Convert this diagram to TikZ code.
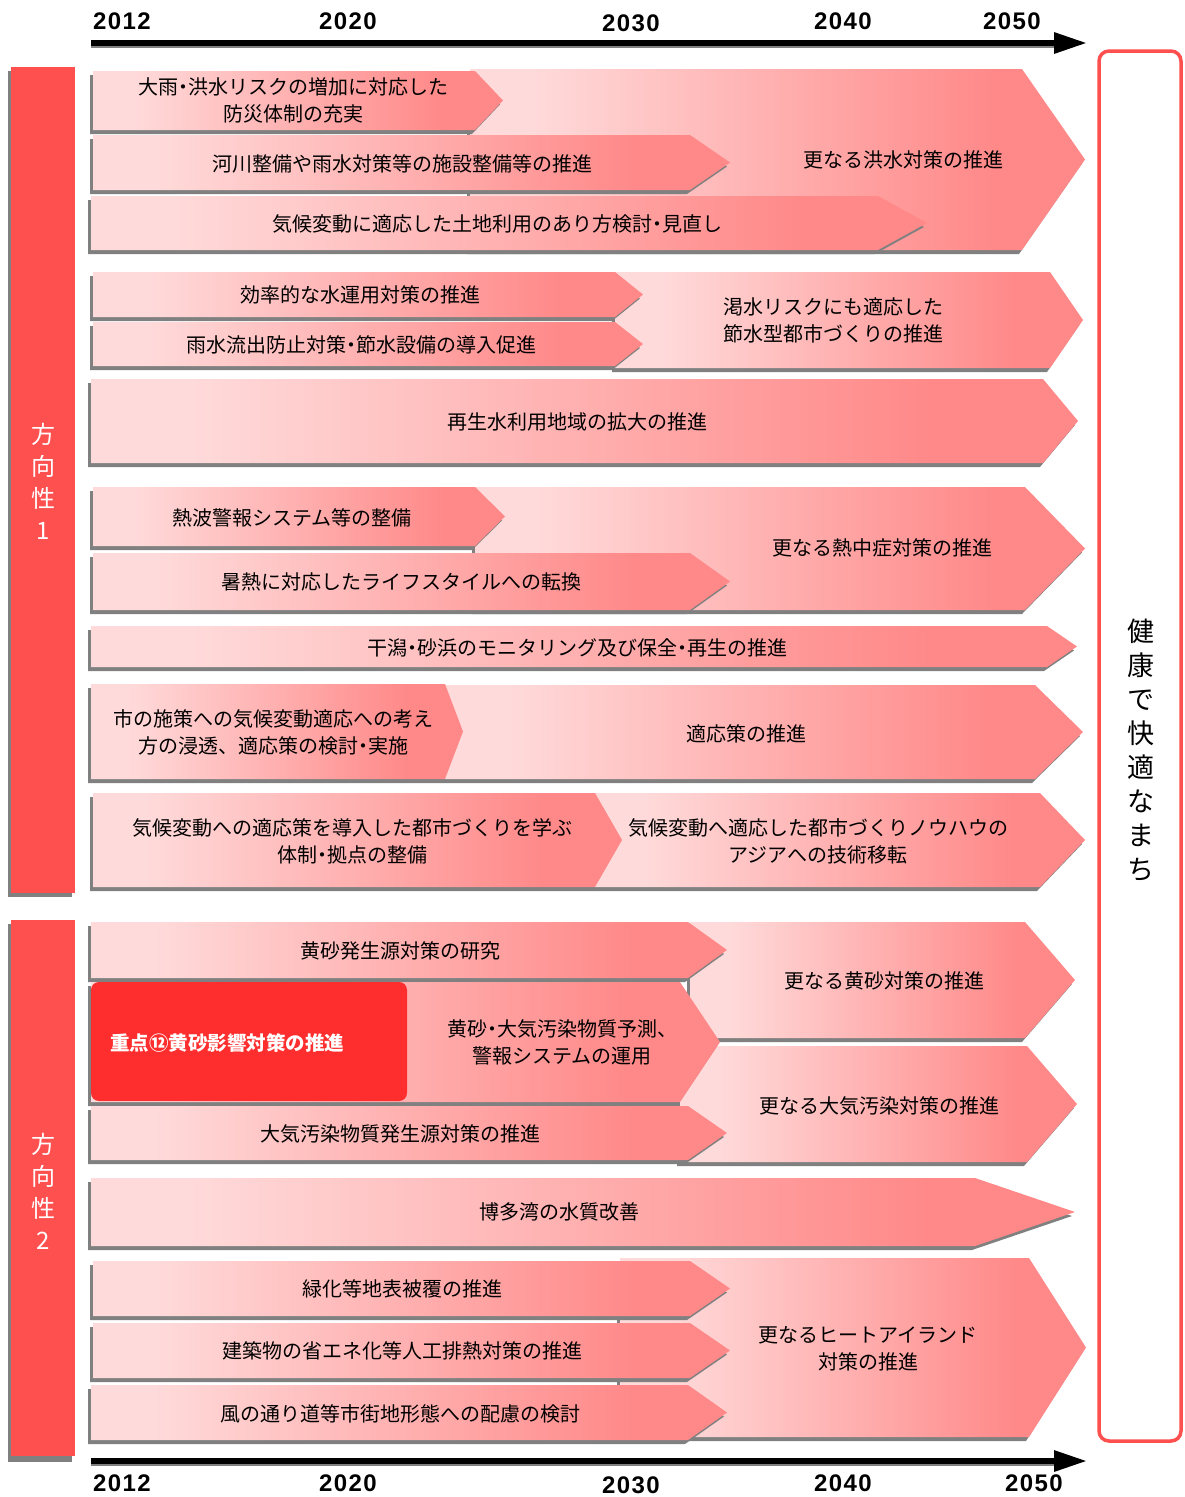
\documentclass[tikz,border=0pt]{standalone}
\usepackage{fontspec}
\usetikzlibrary{arrows.meta}
\newfontfamily\jp{Noto Sans CJK JP}
\newfontfamily\yr[LetterSpace=6]{Liberation Sans}
\definecolor{LP}{RGB}{255,218,218}
\definecolor{SAL}{RGB}{255,136,136}
\definecolor{SHG}{RGB}{128,128,128}
\definecolor{BAR}{RGB}{255,80,80}
\definecolor{KEY}{RGB}{255,46,46}
\newcommand\nk{\kern-0.25em・\kern-0.25em}
\pgfdeclarehorizontalshading{chevshade}{100bp}{color(0bp)=(LP); color(30bp)=(LP); color(68bp)=(SAL); color(100bp)=(SAL)}
\newcommand\chevarrow[5]{%
  \pgfmathsetmacro\ymid{(#2+#4)/2}%
  \fill[SHG,xshift=-3pt,yshift=-4pt] (#1,#2) -- (#3,#2) -- (#5,\ymid) -- (#3,#4) -- (#1,#4) -- cycle;
  \shade[shading=chevshade] (#1,#2) -- (#3,#2) -- (#5,\ymid) -- (#3,#4) -- (#1,#4) -- cycle;
}
\tikzset{
  lbl/.style={font=\jp\fontsize{20}{27}\selectfont, align=center, inner sep=0pt, text=black},
  year/.style={font=\yr\bfseries\fontsize{24}{24}\selectfont, inner sep=0pt},
  axis/.style={line width=6pt, -{Triangle[length=33pt,width=20pt]}},
  vlbl/.style={font=\jp\fontsize{24}{32}\selectfont, align=center, inner sep=0pt, text=white},
}
\begin{document}
\begin{tikzpicture}[x=1pt,y=-1pt]
\useasboundingbox (0,0) rectangle (1185,1497);
\fill[white] (0,0) rectangle (1185,1497);

% axes
\coordinate (ts) at (91,43);
\coordinate (te) at (1087,43);
\coordinate (bs) at (91,1461);
\coordinate (be) at (1087,1461);
\draw[SHG,line width=2pt] (91,47) -- (1055,47);
\draw[SHG,line width=2pt] (91,1465) -- (1055,1465);
\draw[axis] (ts) -- (te);
\draw[axis] (bs) -- (be);
\node[year] (y1) at (122,21) {2012};
\node[year] (y2) at (348,21) {2020};
\node[year] (y3) at (631,23) {2030};
\node[year] (y4) at (843,21) {2040};
\node[year] (y5) at (1012,21) {2050};
\node[year] (z1) at (122,1483) {2012};
\node[year] (z2) at (348,1483) {2020};
\node[year] (z3) at (631,1485) {2030};
\node[year] (z4) at (843,1483) {2040};
\node[year] (z5) at (1034,1483) {2050};

% left bars
\fill[SHG] (8,71) rectangle (72,897);
\fill[BAR] (11,67) rectangle (75,893);
\node[vlbl] (d1) at (43,481) {方\\向\\性\\1};
\fill[SHG] (8,924) rectangle (72,1462);
\fill[BAR] (11,920) rectangle (75,1456);
\node[vlbl] (d2) at (43,1191) {方\\向\\性\\2};

% right goal box
\draw[BAR,line width=3.5pt,rounded corners=10pt] (1099,51) rectangle (1181,1441);
\node[font=\jp\fontsize{27}{34}\selectfont, align=center, inner sep=0pt] (goal) at (1141,750) {健\\康\\で\\快\\適\\な\\ま\\ち};

% group A
\chevarrow{470}{69}{1022}{250}{1085}
\chevarrow{93}{71}{475}{130}{503}
\chevarrow{93}{135}{690}{190}{730}
\chevarrow{91}{196}{878}{250}{927}
\node[lbl] (a1) at (293,100) {大雨\nk 洪水リスクの増加に対応した\\防災体制の充実};
\node[lbl] (a2) at (402,164) {河川整備や雨水対策等の施設整備等の推進};
\node[lbl] (a3) at (497,224) {気候変動に適応した土地利用のあり方検討\nk 見直し};
\node[lbl] (a4) at (903,160) {更なる洪水対策の推進};

% group B
\chevarrow{615}{272}{1050}{368}{1083}
\chevarrow{93}{272}{615}{317}{643}
\chevarrow{93}{322}{615}{366}{643}
\chevarrow{91}{379}{1043}{463}{1078}
\node[lbl] (b1) at (360,295) {効率的な水運用対策の推進};
\node[lbl] (b2) at (361,345) {雨水流出防止対策\nk 節水設備の導入促進};
\node[lbl] (b3) at (833,320) {渇水リスクにも適応した\\節水型都市づくりの推進};
\node[lbl] (b4) at (577,422) {再生水利用地域の拡大の推進};

% group C
\chevarrow{475}{487}{1025}{610}{1085}
\chevarrow{93}{487}{475}{546}{505}
\chevarrow{93}{553}{690}{610}{730}
\chevarrow{91}{626}{1047}{667}{1077}
\chevarrow{445}{685}{1035}{779}{1083}
\chevarrow{91}{684}{445}{779}{463}
\chevarrow{595}{793}{1040}{887}{1085}
\chevarrow{93}{793}{595}{887}{622}
\node[lbl] (c1) at (292,518) {熱波警報システム等の整備};
\node[lbl] (c2) at (401,582) {暑熱に対応したライフスタイルへの転換};
\node[lbl] (c3) at (882,548) {更なる熱中症対策の推進};
\node[lbl] (c4) at (577,648) {干潟\nk 砂浜のモニタリング及び保全\nk 再生の推進};
\node[lbl] (c5) at (273,732) {市の施策への気候変動適応への考え\\方の浸透、適応策の検討\nk 実施};
\node[lbl] (c6) at (746,734) {適応策の推進};
\node[lbl] (c7) at (352,841) {気候変動への適応策を導入した都市づくりを学ぶ\\体制\nk 拠点の整備};
\node[lbl] (c8) at (818,841) {気候変動へ適応した都市づくりノウハウの\\アジアへの技術移転};

% group D
\chevarrow{690}{922}{1025}{1038}{1075}
\chevarrow{680}{1046}{1027}{1162}{1077}
\chevarrow{91}{922}{688}{978}{727}
\chevarrow{91}{982}{680}{1102}{720}
\chevarrow{91}{1106}{688}{1160}{727}
\chevarrow{91}{1178}{975}{1246}{1075}
\fill[KEY,rounded corners=8pt] (91,982) rectangle (407,1101);
\node[lbl] (e1) at (400,951) {黄砂発生源対策の研究};
\node[lbl] (e2) at (884,981) {更なる黄砂対策の推進};
\node[lbl] (e3) at (562,1042) {黄砂\nk 大気汚染物質予測、\\警報システムの運用};
\node[lbl, anchor=west, text=white, font=\jp\bfseries\fontsize{19.5}{24}\selectfont] (e4) at (110,1043) {重点⑫黄砂影響対策の推進};
\node[lbl] (e5) at (400,1134) {大気汚染物質発生源対策の推進};
\node[lbl] (e6) at (879,1106) {更なる大気汚染対策の推進};
\node[lbl] (e7) at (559,1212) {博多湾の水質改善};

% group E
\chevarrow{620}{1258}{1029}{1437}{1086}
\chevarrow{93}{1261}{690}{1316}{730}
\chevarrow{93}{1323}{690}{1378}{730}
\chevarrow{91}{1385}{688}{1440}{727}
\node[lbl] (f1) at (402,1289) {緑化等地表被覆の推進};
\node[lbl] (f2) at (402,1351) {建築物の省エネ化等人工排熱対策の推進};
\node[lbl] (f3) at (400,1414) {風の通り道等市街地形態への配慮の検討};
\node[lbl] (f4) at (868,1349) {更なるヒートアイランド\\対策の推進};
\end{tikzpicture}
\end{document}
